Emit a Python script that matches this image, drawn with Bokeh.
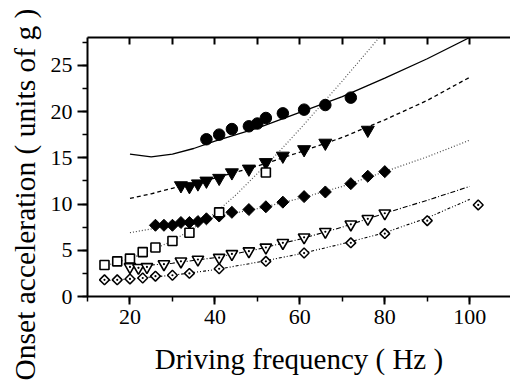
import math
from bokeh.plotting import figure
from bokeh.models import LinearAxis, SingleIntervalTicker, FixedTicker, Title, Range1d
from bokeh.embed import file_html
from bokeh.resources import INLINE

# ---- data ----
circle_f = [38, 41, 44, 48, 50, 52, 56, 61, 66, 72]
circle_a = [17.0, 17.5, 18.1, 18.4, 18.7, 19.3, 19.8, 20.2, 20.7, 21.5]

tri_f = [32, 34, 36, 38, 41, 44, 48, 52, 56, 61, 66, 76]
tri_a = [12.0, 11.9, 12.2, 12.5, 12.8, 13.4, 13.8, 14.5, 15.2, 15.9, 16.6, 18.0]

dia_f = [26, 28, 30, 32, 34, 36, 38, 41, 44, 48, 52, 56, 61, 66, 72, 76, 80]
dia_a = [7.7, 7.7, 7.7, 8.0, 8.0, 8.1, 8.4, 8.7, 9.1, 9.4, 9.7, 10.2, 10.8, 11.3, 12.2, 13.0, 13.5]

sq_f = [14, 17, 20, 23, 26, 30, 34, 41, 52]
sq_a = [3.4, 3.8, 4.1, 4.8, 5.3, 6.0, 6.9, 9.1, 13.4]

otri_f = [20, 22, 24, 28, 32, 36, 41, 44, 48, 52, 56, 61, 66, 72, 76, 80]
otri_a = [3.2, 3.1, 3.2, 3.5, 3.8, 4.0, 4.2, 4.6, 4.9, 5.3, 5.8, 6.4, 7.0, 7.8, 8.4, 9.0]

odia_f = [14, 17, 20, 23, 26, 30, 34, 41, 52, 61, 72, 80, 90, 102]
odia_a = [1.8, 1.8, 1.9, 2.0, 2.2, 2.3, 2.5, 3.0, 3.8, 4.7, 5.8, 6.8, 8.2, 9.9]

# fitted curves
solid_f = [20, 25, 30, 35, 40, 50, 60, 70, 80, 90, 100]
solid_a = [15.4, 15.1, 15.4, 16.0, 16.8, 18.2, 19.9, 21.6, 23.6, 25.7, 28.0]

dashed_f = [20, 25, 30, 40, 50, 60, 70, 80, 90, 100]
dashed_a = [10.6, 11.1, 11.7, 12.8, 14.1, 15.6, 17.2, 19.1, 21.2, 23.7]

dotted_f = [20, 25, 30, 40, 50, 60, 70, 80, 90, 100]
dotted_a = [6.9, 7.3, 7.8, 8.6, 9.5, 10.6, 11.9, 13.5, 15.1, 16.9]

sqfit_f = [14, 20, 25, 30, 35, 40, 45, 50, 55, 60, 65, 70, 75, 80]
sqfit_a = [3.3, 4.1, 5.0, 6.0, 7.4, 9.0, 11.0, 13.3, 15.6, 18.1, 20.7, 23.3, 26.0, 28.7]

otrifit_f = [20, 30, 40, 50, 60, 70, 80, 90, 100]
otrifit_a = [3.2, 3.6, 4.2, 5.1, 6.2, 7.5, 9.0, 10.4, 11.9]

odiafit_f = [14, 20, 30, 40, 50, 60, 70, 80, 90, 100]
odiafit_a = [1.7, 1.9, 2.3, 2.9, 3.7, 4.6, 5.7, 6.9, 8.5, 10.5]

top_ticks = [20, 30, 40, 50, 60, 70, 80, 90, 100]

FONT = "Liberation Serif"

p = figure(width=510, height=382, x_range=Range1d(10, 109.6), y_range=Range1d(0, 28),
           output_backend="svg", toolbar_location=None,
           min_border_left=87, min_border_right=0, min_border_top=37, min_border_bottom=86)
p.outline_line_color = None
p.grid.visible = False

# curves
p.line(sqfit_f, sqfit_a, line_color="#555555", line_width=1.2, line_dash="1 2")
p.line(solid_f, solid_a, line_color="black", line_width=1.3)
p.line(dashed_f, dashed_a, line_color="black", line_width=1.3, line_dash="4 3")
p.line(dotted_f, dotted_a, line_color="#444444", line_width=1.2, line_dash="1 2")
p.line(otrifit_f, otrifit_a, line_color="black", line_width=1.1, line_dash="5 2 1 2")
p.line(odiafit_f, odiafit_a, line_color="black", line_width=1.1, line_dash="3 2 1 2 1 2")

# markers
p.scatter(circle_f, circle_a, marker="circle", size=11.5, fill_color="black", line_color="black")
p.scatter(tri_f, tri_a, marker="inverted_triangle", size=13, fill_color="black", line_color="black")
p.scatter(dia_f, dia_a, marker="square", angle=math.pi / 4, size=8.5, fill_color="black", line_color="black")
p.scatter(sq_f, sq_a, marker="square", size=9, fill_color="white", line_color="black", line_width=1.6)
p.scatter(otri_f, otri_a, marker="inverted_triangle", size=11.5, fill_color="white", line_color="black", line_width=1.6)
p.scatter(otri_f, otri_a, marker="circle", size=2.2, fill_color="black", line_color=None)
p.scatter(odia_f, odia_a, marker="square", angle=math.pi / 4, size=7, fill_color="white", line_color="black", line_width=1.5)
p.scatter(odia_f, odia_a, marker="circle", size=2.2, fill_color="black", line_color=None)

# bottom axis
xa = p.xaxis[0]
xa.ticker = SingleIntervalTicker(interval=20, num_minor_ticks=2)
xa.axis_line_width = 2
xa.major_tick_line_width = 2
xa.minor_tick_line_width = 1.5
xa.major_tick_out = 8
xa.major_tick_in = 0
xa.minor_tick_out = 5
xa.minor_tick_in = 0
xa.major_label_text_font = FONT
xa.major_label_text_font_size = "22px"
xa.major_label_text_color = "black"
xa.major_label_standoff = 5
xa.axis_label = "Driving frequency ( Hz )"
xa.axis_label_text_font = FONT
xa.axis_label_text_font_size = "29px"
xa.axis_label_text_font_style = "normal"
xa.axis_label_text_color = "black"
xa.axis_label_standoff = 16

# left axis
ya = p.yaxis[0]
ya.ticker = SingleIntervalTicker(interval=5, num_minor_ticks=2)
ya.axis_line_width = 2
ya.major_tick_line_width = 2
ya.minor_tick_line_width = 1.5
ya.major_tick_out = 10
ya.major_tick_in = 0
ya.minor_tick_out = 5
ya.minor_tick_in = 0
ya.major_label_text_font = FONT
ya.major_label_text_font_size = "22px"
ya.major_label_text_color = "black"
ya.major_label_standoff = 5

# top axis (ticks inward, no labels)
ta = LinearAxis(ticker=FixedTicker(ticks=[], minor_ticks=top_ticks))
ta.axis_line_width = 2
ta.minor_tick_line_width = 2
ta.minor_tick_in = 7
ta.minor_tick_out = 0
ta.major_tick_line_color = None
ta.major_label_standoff = 0
p.add_layout(ta, "above")

# y title: anchored at its start (bottom), shifted below the frame bottom
ytitle = Title(text="Onset acceleration ( units of g )", align="left", offset=-84,
               text_font=FONT, text_font_size="29.5px", text_font_style="normal",
               text_color="black", standoff=13)
p.add_layout(ytitle, "left")

open("out.html", "w").write(file_html(p, INLINE))
